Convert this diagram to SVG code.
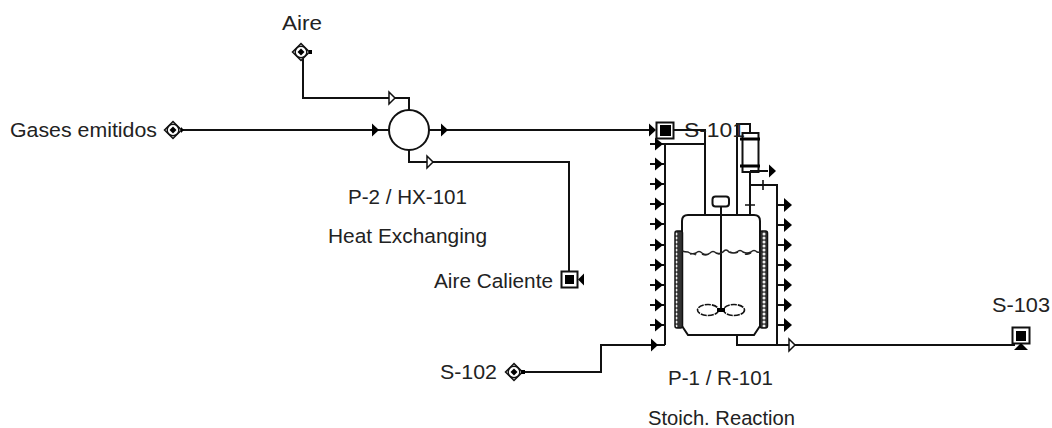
<svg xmlns="http://www.w3.org/2000/svg" width="1052" height="428" viewBox="0 0 1052 428">
<style>
text{font-family:"Liberation Sans",Arial,sans-serif;font-size:20.5px;fill:#222}
.l{fill:none;stroke:#111;stroke-width:2}
.t{fill:none;stroke:#111;stroke-width:1.6}
.k{fill:#000;stroke:none}
.o{fill:#fff;stroke:#111;stroke-width:1.5}
</style>
<defs>
<polygon id="ca" class="k" points="0,-6.500 7,0 0,6.500"/>
<polygon id="oa" class="o" points="0,-6 6,0 0,6"/>
<g id="st"><line class="l" x1="-15" y1="0" x2="0" y2="0"/><polygon class="k" points="-10,-6.500 -2,0 -10,6.500"/></g>
<g id="sr"><line class="l" x1="0" y1="0" x2="8" y2="0"/><polygon class="k" points="7,-7 15,0 7,7"/></g>
<g id="dia"><polygon points="0,-8.500 8.500,0 0,8.500 -8.500,0" fill="#fff" stroke="#111" stroke-width="1.500"/><circle r="5.800" fill="none" stroke="#111" stroke-width="1.400"/><polygon class="k" points="0,-3.500 3.500,0 0,3.500 -3.500,0"/></g>
<pattern id="jk" width="8" height="4" patternUnits="userSpaceOnUse"><rect width="8" height="4" fill="#333"/><circle cx="4" cy="2" r="1.500" fill="#eee"/></pattern>
</defs>
<g id="connectors">
<path class="l" d="M303 52V98H409V110"/>
<path class="l" d="M178 130H389"/>
<path class="l" d="M429 130H652"/>
<path class="l" d="M409 150V162H569V271"/>
<path class="l" d="M674 130H705V215"/>
<path class="l" d="M705 144H665V345"/>
<path class="l" d="M522 372H601V345H665"/>
<path class="l" d="M737 215V124H750V133"/>
<path class="l" d="M750 172V215"/>
<path class="l" d="M750 171H768"/>
<path class="l" d="M750 185H777V345"/>
<path class="l" d="M737 335V345H1015"/>
<use href="#oa" x="389" y="98"/>
<use href="#ca" x="372" y="130"/>
<use href="#ca" x="441" y="130"/>
<use href="#oa" x="427" y="162"/>
<use href="#ca" x="649" y="130"/>
<use href="#ca" x="769" y="171"/>
<use href="#oa" x="789" y="345"/>
<use href="#ca" x="651" y="345"/>
<path class="t" d="M745 205H755M763 180V190"/>
</g>
<g id="left-outlets">
<use href="#st" x="665" y="144"/><use href="#st" x="665" y="164"/><use href="#st" x="665" y="184"/><use href="#st" x="665" y="204"/><use href="#st" x="665" y="224"/><use href="#st" x="665" y="245"/><use href="#st" x="665" y="265"/><use href="#st" x="665" y="285"/><use href="#st" x="665" y="305"/><use href="#st" x="665" y="325"/>
</g>
<g id="right-outlets">
<use href="#sr" x="777" y="205"/><use href="#sr" x="777" y="225"/><use href="#sr" x="777" y="245"/><use href="#sr" x="777" y="265"/><use href="#sr" x="777" y="285"/><use href="#sr" x="777" y="305"/><use href="#sr" x="777" y="325"/>
</g>
<g id="aire"><use href="#dia" x="301" y="52"/><rect class="k" x="309" y="50" width="3" height="4"/><text x="282" y="30" textLength="40" lengthAdjust="spacingAndGlyphs">Aire</text></g>
<g id="gases-emitidos"><use href="#dia" x="173" y="130"/><polygon class="k" points="181,127 184,130 181,133"/><text x="10" y="137" textLength="147" lengthAdjust="spacingAndGlyphs">Gases emitidos</text></g>
<g id="hx-101">
<circle cx="409" cy="130" r="20" fill="#fff" stroke="#111" stroke-width="2"/>
<text x="348" y="204" textLength="119" lengthAdjust="spacingAndGlyphs">P-2 / HX-101</text>
<text x="328" y="243" textLength="159" lengthAdjust="spacingAndGlyphs">Heat Exchanging</text>
</g>
<g id="aire-caliente">
<rect x="561.500" y="271.500" width="16" height="16" fill="#fff" stroke="#111" stroke-width="2"/>
<rect class="k" x="565" y="275" width="9" height="9"/>
<polygon class="k" points="584,273.500 578,279.500 584,285.500"/>
<text x="434" y="288" textLength="119" lengthAdjust="spacingAndGlyphs">Aire Caliente</text>
</g>
<g id="s-101">
<rect x="656.500" y="122.500" width="17" height="16" fill="#fff" stroke="#111" stroke-width="2"/>
<rect class="k" x="660" y="125" width="11" height="11"/>
<text x="684" y="137" textLength="61" lengthAdjust="spacingAndGlyphs">S-101</text>
<path class="l" d="M674 130H705"/>
</g>
<g id="s-102"><use href="#dia" x="514" y="372"/><rect class="k" x="521" y="370" width="4" height="4"/><text x="440" y="379" textLength="57" lengthAdjust="spacingAndGlyphs">S-102</text></g>
<g id="s-103">
<rect x="1012.500" y="327.500" width="17" height="16" fill="#fff" stroke="#111" stroke-width="2"/>
<rect class="k" x="1016" y="331" width="10" height="10"/>
<polygon class="k" points="1014,350 1028,350 1021,343"/>
<text x="992" y="312" textLength="58" lengthAdjust="spacingAndGlyphs">S-103</text>
</g>
<g id="r-101">
<rect class="l" x="742.500" y="133" width="16" height="39"/>
<path d="M740 139H760M740 166H760" fill="none" stroke="#000" stroke-width="3"/>
<path class="l" d="M682 326V221Q682 215 688 215H754Q760 215 760 221V326L754 335H688L682 326Z"/>
<rect x="675" y="231" width="7.500" height="97" rx="2" fill="url(#jk)" stroke="#111" stroke-width="1.500"/>
<rect x="760" y="231" width="7.500" height="97" rx="2" fill="url(#jk)" stroke="#111" stroke-width="1.500"/>
<rect class="l" x="712.500" y="196.500" width="16.500" height="10" rx="3"/>
<line class="l" x1="721" y1="207" x2="721" y2="310"/>
<path d="M682 251q3 1 6 1 4 3 8 1 3-3 6 0 4 3 8 0 3-3 6 0 3 2 5 0l2-1q3-4 6 0 4 2 8 0 3-3 6 0 4 2 8 0 3-3 6 0 3 1 5-1M690 254q4-1 6 1M702 254q4 2 7 0M716 253q3 1 4 0M730 252q4 2 8 0M745 254q3 1 6-1" fill="none" stroke="#222" stroke-width="1.500"/>
<ellipse class="t" cx="708" cy="310" rx="10.500" ry="5.500" stroke-dasharray="6 1"/>
<ellipse class="t" cx="734" cy="310" rx="10.500" ry="5.500" stroke-dasharray="6 1"/>
<rect class="k" x="717" y="308" width="8" height="4"/>
<text x="668" y="385" textLength="105" lengthAdjust="spacingAndGlyphs">P-1 / R-101</text>
<text x="648" y="425" textLength="147" lengthAdjust="spacingAndGlyphs">Stoich. Reaction</text>
</g>
</svg>
